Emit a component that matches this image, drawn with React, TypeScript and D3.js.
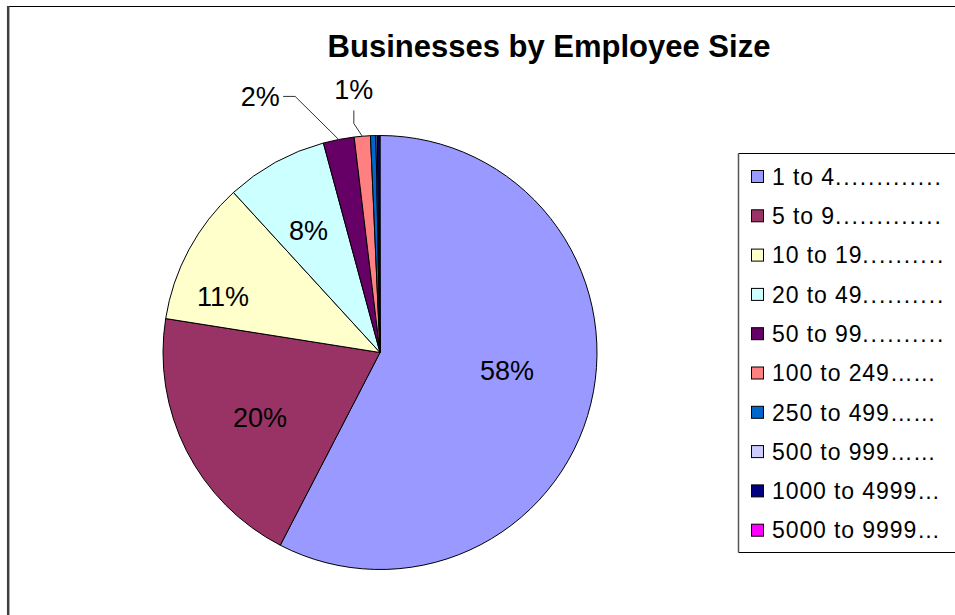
import React from "react";
import * as d3 from "d3";

const title = "Businesses by Employee Size";
const categories = [
  "1 to 4",
  "5 to 9",
  "10 to 19",
  "20 to 49",
  "50 to 99",
  "100 to 249",
  "250 to 499",
  "500 to 999",
  "1000 to 4999",
  "5000 to 9999",
];
const legendLeaders = [
  ".............",
  ".............",
  "..........",
  "..........",
  "..........",
  "……",
  "……",
  "……",
  "…",
  "…",
];
const values = [57.6, 19.9, 10.7, 7.6, 2.3, 1.2, 0.4, 0.1, 0.15, 0.05];
const colors = [
  "#9999FF",
  "#993366",
  "#FFFFCC",
  "#CCFFFF",
  "#660066",
  "#FF8080",
  "#0066CC",
  "#CCCCFF",
  "#000080",
  "#FF00FF",
];

// label placement (layout): angle shift in degrees from slice middle, radius factor
const labelShift = [-5.6, -1.6, -8.6, -1.6, -14.1, -1.0];
const labelRadius = [0.591, 0.629, 0.768, 0.652, 1.303, 1.218];
const leaderType = ["", "", "", "", "h", "v"];

const W = 955;
const H = 615;
const FONT = "'Liberation Sans', Arial, sans-serif";

export default function App() {
  const cx = 380;
  const cy = 352.5;
  const r = 217;
  const total = d3.sum(values);
  const pie = d3
    .pie<number>()
    .sort(null)
    .value((d) => d);
  const arcs = pie(values);
  const arc = d3.arc<d3.PieArcDatum<number>>().innerRadius(0).outerRadius(r);

  const polar = (ang: number, rad: number): [number, number] => [
    Math.sin(ang) * rad,
    -Math.cos(ang) * rad,
  ];

  const legendX = 738.5;
  const legendY = 153.5;
  const legendH = 399;
  const rowStep = 39.3;
  const firstRow = 176.5;

  return (
    <svg
      width={W}
      height={H}
      style={{ position: "absolute", left: 0, top: 0, background: "#fff", overflow: "hidden" }}
      fontFamily={FONT}
    >
      <rect x={0} y={0} width={W} height={H} fill="#fff" />
      {/* chart frame */}
      <line x1={8} x2={W} y1={6.5} y2={6.5} stroke="#000" strokeWidth={1} />
      <line x1={8.2} x2={8.2} y1={6} y2={H} stroke="#404040" strokeWidth={2.5} />

      <text
        x={549}
        y={57}
        textAnchor="middle"
        fontSize={31}
        fontWeight="bold"
        fill="#000"
      >
        {title}
      </text>

      <g transform={`translate(${cx},${cy})`}>
        {arcs.map((a, i) => (
          <path
            key={i}
            d={arc(a) || ""}
            fill={colors[i]}
            stroke="#000"
            strokeWidth={1}
            strokeLinejoin="round"
          />
        ))}
        {arcs.map((a, i) => {
          const pct = Math.round((a.data / total) * 100);
          if (pct < 1 || i >= labelShift.length) return null;
          const mid = (a.startAngle + a.endAngle) / 2;
          const ang = mid + (labelShift[i] * Math.PI) / 180;
          const [lx, ly] = polar(ang, labelRadius[i] * r);
          let leader: React.ReactNode = null;
          const [ex, ey] = polar(mid, r);
          if (leaderType[i] === "h") {
            leader = (
              <polyline
                points={`${ex},${ey} ${lx + 35},${ly} ${lx + 23},${ly}`}
                fill="none"
                stroke="#333"
                strokeWidth={1}
              />
            );
          } else if (leaderType[i] === "v") {
            leader = (
              <polyline
                points={`${ex},${ey} ${lx},${ly + 34} ${lx},${ly + 21}`}
                fill="none"
                stroke="#333"
                strokeWidth={1}
              />
            );
          }
          return (
            <g key={"l" + i}>
              {leader}
              <text
                x={lx}
                y={ly}
                dy="0.36em"
                textAnchor="middle"
                fontSize={27}
                fill="#000"
              >
                {pct + "%"}
              </text>
            </g>
          );
        })}
      </g>

      {/* legend (open on the right, where the picture is cut) */}
      <line x1={legendX} x2={W} y1={legendY} y2={legendY} stroke="#000" strokeWidth={1} />
      <line
        x1={legendX}
        x2={W}
        y1={legendY + legendH}
        y2={legendY + legendH}
        stroke="#000"
        strokeWidth={1}
      />
      <line
        x1={legendX}
        x2={legendX}
        y1={legendY}
        y2={legendY + legendH}
        stroke="#555"
        strokeWidth={1.5}
      />
      {categories.map((c, i) => {
        const y = firstRow + i * rowStep;
        const dotted = legendLeaders[i].startsWith(".");
        return (
          <g key={"lg" + i}>
            <rect
              x={751.5}
              y={y - 6}
              width={12}
              height={12}
              fill={colors[i]}
              stroke="#000"
              strokeWidth={1}
            />
            <text x={772} y={y} dy="0.36em" fontSize={23} fill="#000">
              <tspan letterSpacing={0.9}>{c}</tspan>
              <tspan letterSpacing={dotted ? 1.9 : 0}>{legendLeaders[i]}</tspan>
            </text>
          </g>
        );
      })}
    </svg>
  );
}
